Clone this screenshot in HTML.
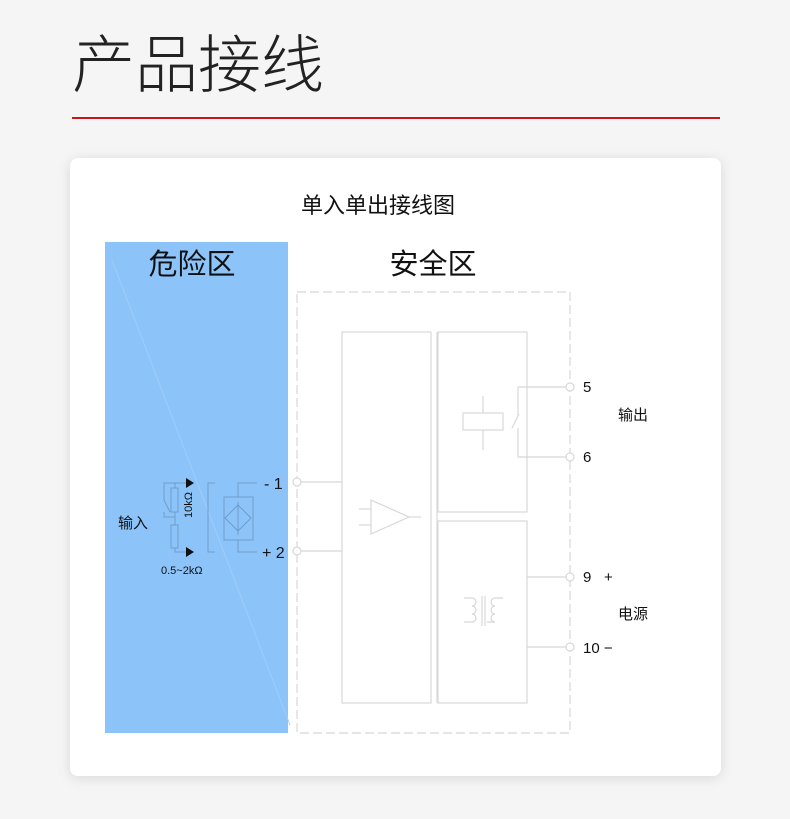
<!DOCTYPE html>
<html><head><meta charset="utf-8"><style>
body{margin:0;width:790px;height:819px;background:#f5f5f5;overflow:hidden;font-family:"Liberation Sans","Noto Sans CJK SC",sans-serif;}
</style></head><body>
<svg width="790" height="819" xmlns="http://www.w3.org/2000/svg" style="position:absolute;left:0;top:0">
<defs><filter id="sh" x="-10%" y="-10%" width="120%" height="120%"><feDropShadow dx="0" dy="2" stdDeviation="6" flood-color="#000" flood-opacity="0.12"/></filter></defs>
<text x="72" y="87" font-size="63" fill="#222" font-family="Noto Sans CJK SC, sans-serif" font-weight="300">产品接线</text>
<rect x="72" y="117" width="648" height="2" fill="#c8161d"/>
<rect x="70" y="158" width="651" height="618" rx="8" fill="#fff" filter="url(#sh)"/>
<g font-family="Liberation Sans, Noto Sans CJK SC, sans-serif" fill="#111">
<text x="378" y="213" font-size="22" text-anchor="middle">单入单出接线图</text>
<rect x="105" y="242" width="183" height="491" fill="#8cc4fa"/>
<line x1="112" y1="260" x2="290" y2="725" stroke="#9fcdfb" stroke-width="1"/>
<text x="192" y="274" font-size="29" text-anchor="middle">危险区</text>
<text x="433" y="274" font-size="29" text-anchor="middle">安全区</text>
</g>
<g fill="none" stroke="#d8d8d8" stroke-width="1.2">
<rect x="297" y="292" width="273" height="441" stroke-dasharray="9,4"/>
<rect x="342" y="332" width="89" height="371"/>
<line x1="437" y1="332" x2="437" y2="703"/>
<rect x="438" y="332" width="89" height="180"/>
<rect x="438" y="521" width="89" height="182"/>
<line x1="301" y1="482" x2="342" y2="482"/>
<line x1="301" y1="551" x2="342" y2="551"/>
<polyline points="566,387 518,387 518,416"/>
<line x1="512" y1="428" x2="519" y2="414"/>
<polyline points="518,428 518,457 566,457"/>
<rect x="463" y="413" width="40" height="17"/>
<line x1="483" y1="396" x2="483" y2="413"/>
<line x1="483" y1="430" x2="483" y2="450"/>
<polygon points="371,500 371,534 409,517"/>
<line x1="359" y1="509" x2="371" y2="509"/>
<line x1="359" y1="525" x2="371" y2="525"/>
<line x1="409" y1="517" x2="421" y2="517"/>
<line x1="527" y1="577" x2="566" y2="577"/>
<line x1="527" y1="647" x2="566" y2="647"/>
<path d="M464,598 h8 a4,4 0 0 1 0,8 a4,4 0 0 1 0,8 a4,4 0 0 1 0,8 h-8"/>
<line x1="482" y1="596" x2="482" y2="626"/>
<line x1="485" y1="596" x2="485" y2="626"/>
<path d="M503,598 h-8 a4,4 0 0 0 0,8 a4,4 0 0 0 0,8 a4,4 0 0 0 0,8 h-8"/>
<circle cx="297" cy="482" r="4" fill="#fff"/>
<circle cx="297" cy="551" r="4" fill="#fff"/>
<circle cx="570" cy="387" r="4" fill="#fff"/>
<circle cx="570" cy="457" r="4" fill="#fff"/>
<circle cx="570" cy="577" r="4" fill="#fff"/>
<circle cx="570" cy="647" r="4" fill="#fff"/>
</g>
<g fill="none" stroke="#6f9cc8" stroke-width="1">
<polyline points="190,483 164,483 164,500"/>
<line x1="164" y1="500" x2="170" y2="512"/>
<polyline points="164,512 164,517 175,517"/>
<line x1="175" y1="483" x2="175" y2="488"/>
<rect x="171" y="488" width="7" height="24"/>
<line x1="175" y1="512" x2="175" y2="525"/>
<rect x="171" y="525" width="7" height="23"/>
<polyline points="175,548 175,552 190,552"/>
<polyline points="215,483 208,483 208,552 215,552"/>
<polyline points="257,483 238,483 238,497"/>
<polyline points="257,552 238,552 238,540"/>
<rect x="224" y="497" width="29" height="43"/>
<polygon points="238,505 251,518 238,531 225,518"/>
<line x1="238" y1="502" x2="238" y2="535"/>
</g>
<g fill="#111">
<polygon points="186,478 194,483 186,488"/>
<polygon points="186,547 194,552 186,557"/>
</g>
<g font-family="Liberation Sans, Noto Sans CJK SC, sans-serif" fill="#111">
<text x="192" y="518" font-size="11" transform="rotate(-90 192 518)">10kΩ</text>
<text x="161" y="574" font-size="11">0.5~2kΩ</text>
<text x="118" y="528" font-size="15">输入</text>
<text x="264" y="489" font-size="16">- 1</text>
<text x="262" y="558" font-size="16">+ 2</text>
<text x="583" y="392" font-size="15">5</text>
<text x="583" y="462" font-size="15">6</text>
<text x="618" y="420" font-size="15">输出</text>
<text x="583" y="582" font-size="15">9</text>
<text x="604" y="582" font-size="15">+</text>
<text x="618" y="619" font-size="15">电源</text>
<text x="583" y="653" font-size="15">10 −</text>
</g>
</svg>
</body></html>
